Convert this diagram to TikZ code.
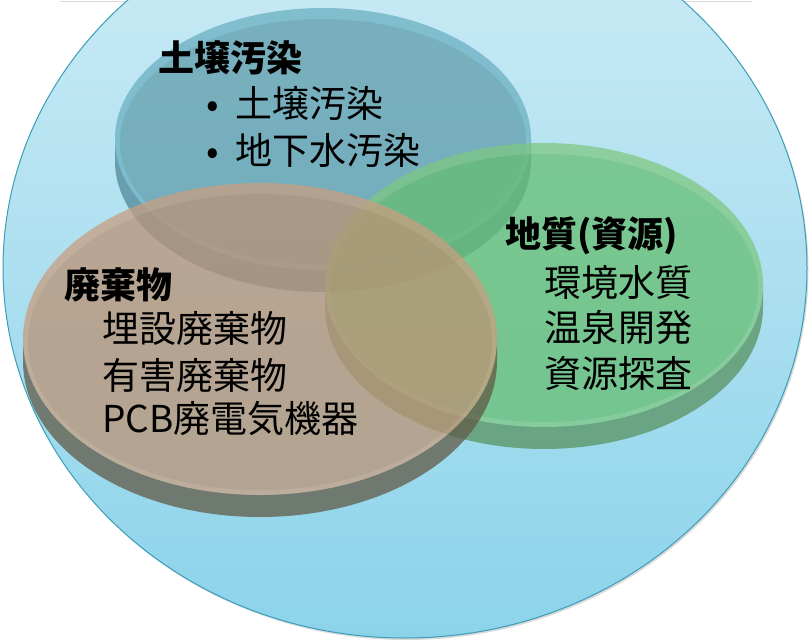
\documentclass[tikz,border=0pt]{standalone}
\usepackage{fontspec}
\setmainfont{Noto Sans CJK JP}
\usetikzlibrary{shadows}

\definecolor{bgtop}{RGB}{206,236,246}
\definecolor{bgbot}{RGB}{140,211,234}
\definecolor{ringc}{RGB}{58,158,184}
\definecolor{soilface}{RGB}{96,157,172}
\definecolor{soilrim}{RGB}{106,176,194}
\definecolor{soilside}{RGB}{80,136,154}
\definecolor{geoface}{RGB}{102,190,113}
\definecolor{georim}{RGB}{126,199,130}
\definecolor{geoside}{RGB}{88,146,96}
\definecolor{wasteface}{RGB}{188,146,116}
\definecolor{wasterim}{RGB}{200,158,128}
\definecolor{wasteside}{RGB}{97,90,70}

% cx, cy, x radius, y radius, face, rim, side
\newcommand{\venndisk}[7]{%
  \begin{scope}[transparency group,opacity=0.75]
    \fill[#7] (#1-#3,#2) rectangle (#1+#3,#2+22);
    \fill[#7] (#1,#2+22) ellipse [x radius=#3,y radius=#4];
    \fill[#6] (#1,#2) ellipse [x radius=#3,y radius=#4];
    \fill[#5] (#1,#2+3) ellipse [x radius=#3-5,y radius=#4-8];
  \end{scope}}

\begin{document}
\begin{tikzpicture}[x=1pt,y=-1pt,
    item/.style={anchor=west,inner sep=0pt,font=\fontsize{37}{40}\selectfont},
    head/.style={item,font=\fontsize{36}{40}\selectfont\bfseries}]
  \useasboundingbox (0,0) rectangle (809,642);
  \fill[white,drop shadow={opacity=0.3,shadow xshift=0pt,shadow yshift=-1.5pt}] (60,-20) rectangle (752,1);
  \path[top color=bgtop,bottom color=bgbot,draw=ringc,line width=1pt,
    drop shadow={opacity=0.3,shadow xshift=1.5pt,shadow yshift=-2pt}]
    (405,268) ellipse [x radius=402,y radius=370];

  \venndisk{323}{139}{208}{131}{soilface}{soilrim}{soilside}
  \venndisk{544}{285}{219}{142}{geoface}{georim}{geoside}
  \venndisk{260}{339}{237}{156}{wasteface}{wasterim}{wasteside}

  \node[head] (soilhead) at (158,58) {土壌汚染};
  \node[item] (soil1) at (206,103) {\makebox[29pt][l]{•}土壌汚染};
  \node[item] (soil2) at (206,150) {\makebox[29pt][l]{•}地下水汚染};

  \node[head] (geohead) at (505,236) {地質(資源)};
  \node[item] (geo1) at (544,283) {環境水質};
  \node[item] (geo2) at (544,327) {温泉開発};
  \node[item] (geo3) at (544,373) {資源探査};

  \node[head] (wastehead) at (64,285) {廃棄物};
  \node[item] (waste1) at (102,329) {埋設廃棄物};
  \node[item] (waste2) at (102,376) {有害廃棄物};
  \node[item] (waste3) at (102,419) {PCB廃電気機器};
\end{tikzpicture}
\end{document}
